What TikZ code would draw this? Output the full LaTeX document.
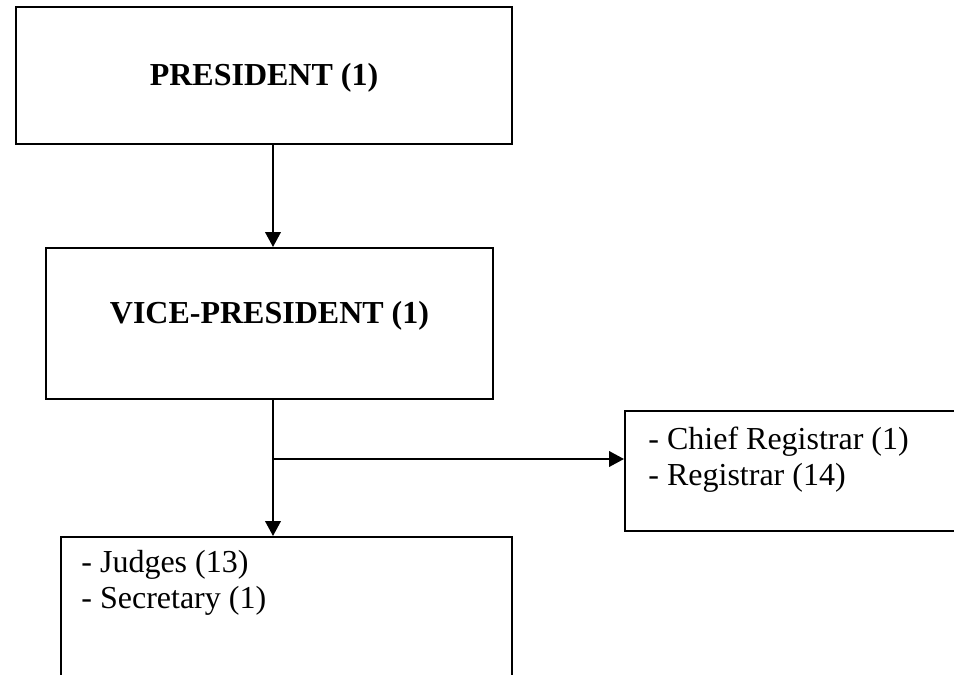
\documentclass[tikz,border=0pt]{standalone}
\usepackage{fontspec}
\setmainfont{Liberation Serif}
\usetikzlibrary{arrows.meta}
\usetikzlibrary{positioning}

\begin{document}
\begin{tikzpicture}
\tikzset{orgbox/.style={rectangle,draw,line width=1pt,font=\fontsize{16}{18}\selectfont\bfseries},
listbox/.style={rectangle,draw,line width=1pt},
listtext/.style={inner sep=0pt,align=left,font=\fontsize{16}{18}\selectfont},
link/.style={line width=1pt,-{Triangle[width=7.8pt,length=7.5pt]}}}
\clip (0,0) rectangle (477pt,-337.5pt);
\node[orgbox,minimum width=248pt,minimum height=68.5pt,text height=11pt,text depth=1.5pt](pres) at (132pt,-37.75pt){PRESIDENT (1)};
\node[orgbox,minimum width=223.5pt,minimum height=75.5pt,text height=11pt,text depth=11pt](vp)[below=51pt of pres,xshift=2.75pt]{VICE-PRESIDENT (1)};
\node[listbox,minimum width=225.5pt,minimum height=90pt](judges)[below=68pt of vp,xshift=8.5pt]{};
\node[listtext](judgestext)[below right=7pt and 10.5pt of judges.north west]{- Judges (13)\\- Secretary (1)};
\node[listbox,minimum width=180pt,minimum height=60pt](reg)[below right=5pt and 65pt of vp.south east]{};
\node[listtext](regtext)[below right=8.3pt and 12pt of reg.north west]{- Chief Registrar (1)\\- Registrar (14)};
\coordinate (spine) at ([xshift=4.5pt]pres.south);
\path (spine |- vp.south) ++(0,-29.5pt) coordinate (branch);
\draw[link](spine) -- (spine |- vp.north);
\draw[link](spine |- vp.south) -- (spine |- judges.north);
\draw[link](branch) -- (branch -| reg.west);
\end{tikzpicture}
\end{document}
